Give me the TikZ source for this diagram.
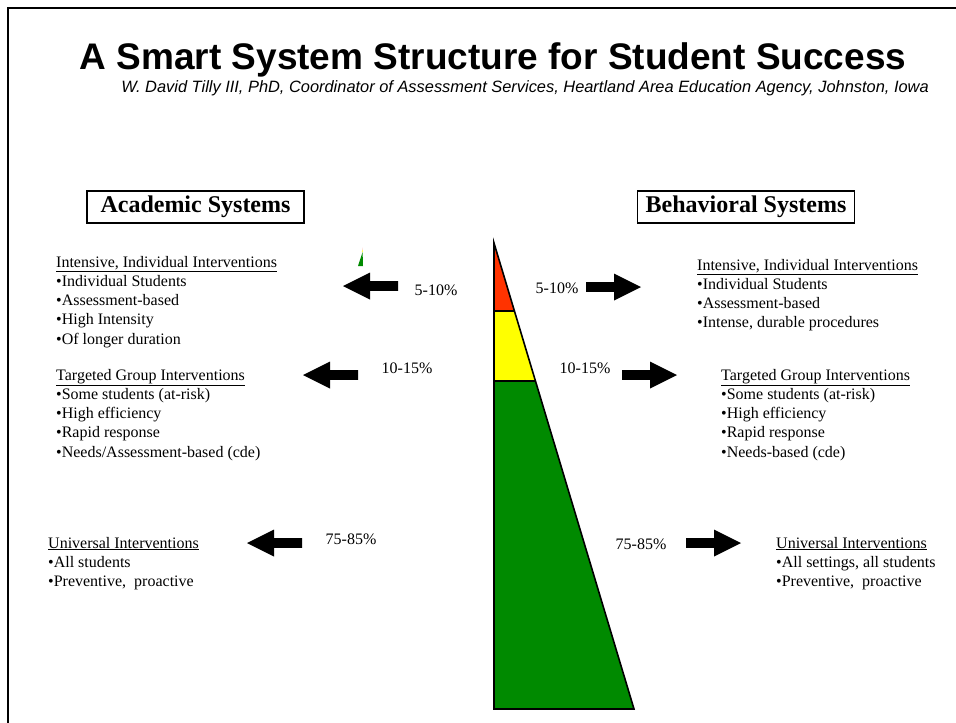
\documentclass[tikz,border=0pt]{standalone}
\usepackage{fontspec}
\setmainfont{Liberation Serif}
\newfontfamily\arialfont{Liberation Sans}
\usetikzlibrary{positioning}
\definecolor{pyrRed}{HTML}{FF3300}
\definecolor{pyrYellow}{HTML}{FFFF00}
\definecolor{pyrGreen}{HTML}{008A00}
\tikzset{
	% lists are placed by the baseline of their last line
	list/.style={anchor=base west, align=left, inner sep=0, font=\fontsize{16}{19.3}\selectfont},
	pct/.style={inner sep=0, font=\fontsize{16}{19.3}\selectfont},
	sysbox/.style={draw, line width=1.3pt, minimum width=217pt, minimum height=32pt, inner sep=0,
		font=\fontsize{24}{28}\selectfont\bfseries},
	pics/blockarrow/.style={code={\fill (0,-4.8) -- (28,-4.8) -- (28,-13.5) -- (55,0) -- (28,13.5) -- (28,4.8) -- (0,4.8) -- cycle;}}
}
\newcommand{\hd}[1]{\underline{#1}}

\begin{document}
\begin{tikzpicture}[x=1pt, y=-1pt]
	\useasboundingbox (0,0) rectangle (956,723);
	% slide frame, only top and left edges inside the page
	\draw[line width=2pt] (8.3,730) -- (8.3,7.8) -- (960,7.8);
	
	\node[font=\arialfont\bfseries\fontsize{37}{40}\selectfont] (title) at (493,60) {A Smart System Structure for Student Success};
	\node[font=\arialfont\itshape\fontsize{16.4}{19}\selectfont] (sub) at (525,88) {W. David Tilly III, PhD, Coordinator of Assessment Services, Heartland Area Education Agency, Johnston, Iowa};
	
	\node[sysbox] (acad) at (195.5,207) {Academic Systems};
	\node[sysbox] (behav) at (746,207) {Behavioral Systems};
	
	% pyramid
	\fill[pyrRed] (494,243) -- (514.4,311) -- (494,311) -- cycle;
	\fill[pyrYellow] (494,311) -- (514.4,311) -- (535.5,381) -- (494,381) -- cycle;
	\fill[pyrGreen] (494,381) -- (535.5,381) -- (634,709) -- (494,709) -- cycle;
	\draw[line width=1.6pt, line join=miter] (494,243) -- (634,709) -- (494,709) -- cycle;
	\draw[line width=1.6pt] (494,311) -- (514.4,311);
	\draw[line width=1.6pt] (494,381) -- (535.5,381);
	
	% tiny pyramid icon
	\fill[pyrGreen] (362.6,252) -- (358,266) -- (363,266) -- cycle;
	\fill[pyrYellow] (362.5,249.5) -- (361.8,252) -- (362.7,252) -- cycle;
	\fill[pink] (362.5,247.5) -- (362.2,249.5) -- (362.6,249.5) -- cycle;
	
	% academic side
	\node[list] (ai) at (56,344.2) {\hd{Intensive, Individual Interventions}\\•Individual Students\\•Assessment-based\\•High Intensity\\•Of longer duration};
	\node[list] (at) at (56,457.2) {\hd{Targeted Group Interventions}\\•Some students (at-risk)\\•High efficiency\\•Rapid response\\•Needs/Assessment-based (cde)};
	\node[list] (au) at (48,586.6) {\hd{Universal Interventions}\\•All students\\•Preventive,\ \ proactive};
	
	\node[pct] (ap1) at (436,290) {5-10\%};
	\node[pct] (ap2) at (407,368) {10-15\%};
	\node[pct] (ap3) at (351,539) {75-85\%};
	\pic[rotate=180] at (398,286) {blockarrow};
	\pic[rotate=180] at (358,375) {blockarrow};
	\pic[rotate=180] at (302,543) {blockarrow};
	
	% behavioral side
	\node[list] (bi) at (697,327.9) {\hd{Intensive, Individual Interventions}\\•Individual Students\\•Assessment-based\\•Intense, durable procedures};
	\node[list] (bt) at (721,457.2) {\hd{Targeted Group Interventions}\\•Some students (at-risk)\\•High efficiency\\•Rapid response\\•Needs-based (cde)};
	\node[list] (bu) at (776,586.6) {\hd{Universal Interventions}\\•All settings, all students\\•Preventive,\ \ proactive};
	
	\node[pct] (bp1) at (557,288) {5-10\%};
	\node[pct] (bp2) at (585,368) {10-15\%};
	\node[pct] (bp3) at (641,544) {75-85\%};
	\pic at (586,287) {blockarrow};
	\pic at (622,375) {blockarrow};
	\pic at (686,543) {blockarrow};
\end{tikzpicture}
\end{document}
